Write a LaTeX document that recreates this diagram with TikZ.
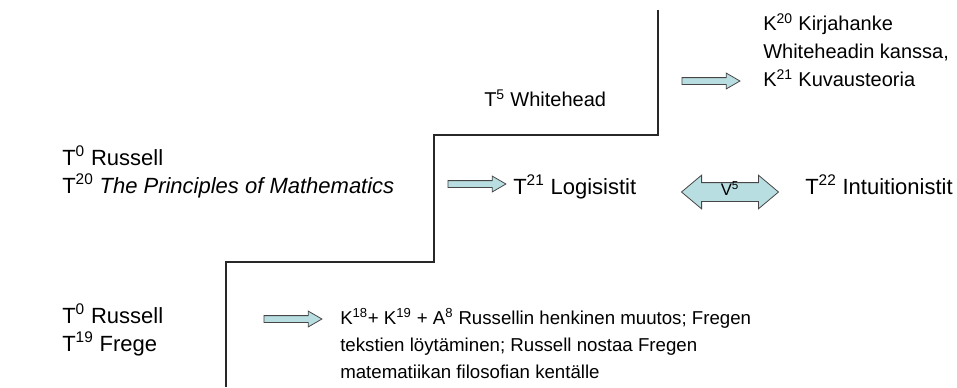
\documentclass[tikz,border=0pt]{standalone}
\usepackage{fontspec}
\setmainfont{Liberation Sans}
\usetikzlibrary{shapes.arrows,calc}
\definecolor{arrowfill}{RGB}{185,222,226}
\definecolor{arrowline}{RGB}{70,70,70}
\definecolor{stairline}{RGB}{40,40,40}
\tikzset{
    txt/.style={anchor=base west, align=left, inner sep=0pt, font=\fontsize{15}{21}\selectfont},
    bigtxt/.style={txt, font=\fontsize{16.5}{21}\selectfont},
    smalltxt/.style={txt, font=\fontsize{14}{20.25}\selectfont},
    stair/.style={draw=stairline, line width=1.2pt},
    blockarrow/.style={single arrow, draw=arrowline, fill=arrowfill, line width=0.6pt,
        minimum height=43.5pt, inner xsep=0pt, inner ysep=2.25pt,
        single arrow head extend=3.4pt, single arrow tip angle=60},
    doublearrow/.style={double arrow, draw=arrowline, fill=arrowfill, line width=0.6pt,
        minimum height=72.75pt, inner sep=0pt, text height=9pt, text depth=4.5pt,
        double arrow head extend=5.6pt, double arrow tip angle=80,
        font=\fontsize{12.5}{12.5}\selectfont}
}

\begin{document}
\begin{tikzpicture}[x=0.75pt,y=-0.75pt]
    \useasboundingbox (0,0) rectangle (957,387);
    % portaat
    \draw[stair] (658,10) -- (658,135) -- (434,135) -- (434,262) -- (226,262) -- (226,387);
    % ylin porras
    \node[txt] (whitehead) at (484,106) {T\textsuperscript{5} Whitehead};
    \node[blockarrow] (arrowtop) at (708,81) {};
    \node[txt] (kuvaus) at (763,86) {K\textsuperscript{20} Kirjahanke\\Whiteheadin kanssa,\\K\textsuperscript{21} Kuvausteoria};
    % keskimmainen porras
    \node[bigtxt] (principles) at (62,193) {T\textsuperscript{0} Russell\\T\textsuperscript{20} \textit{The Principles of Mathematics}};
    \node[blockarrow] (arrowmid) at (474,184) {};
    \node[bigtxt] (logisistit) at (513,194) {T\textsuperscript{21} Logisistit};
    \node[doublearrow] (v5) at (730,192) {V\textsuperscript{5}};
    \node[bigtxt] (intuitionistit) at (805,194) {T\textsuperscript{22} Intuitionistit};
    % alin porras
    \node[bigtxt] (frege) at (62,351) {T\textsuperscript{0} Russell\\T\textsuperscript{19} Frege};
    \node[blockarrow] (arrowlow) at (290,319) {};
    \node[smalltxt] (muutos) at (340,378) {K\textsuperscript{18}+ K\textsuperscript{19} + A\textsuperscript{8} Russellin henkinen muutos; Fregen\\tekstien löytäminen; Russell nostaa Fregen\\matematiikan filosofian kentälle};
\end{tikzpicture}
\end{document}
